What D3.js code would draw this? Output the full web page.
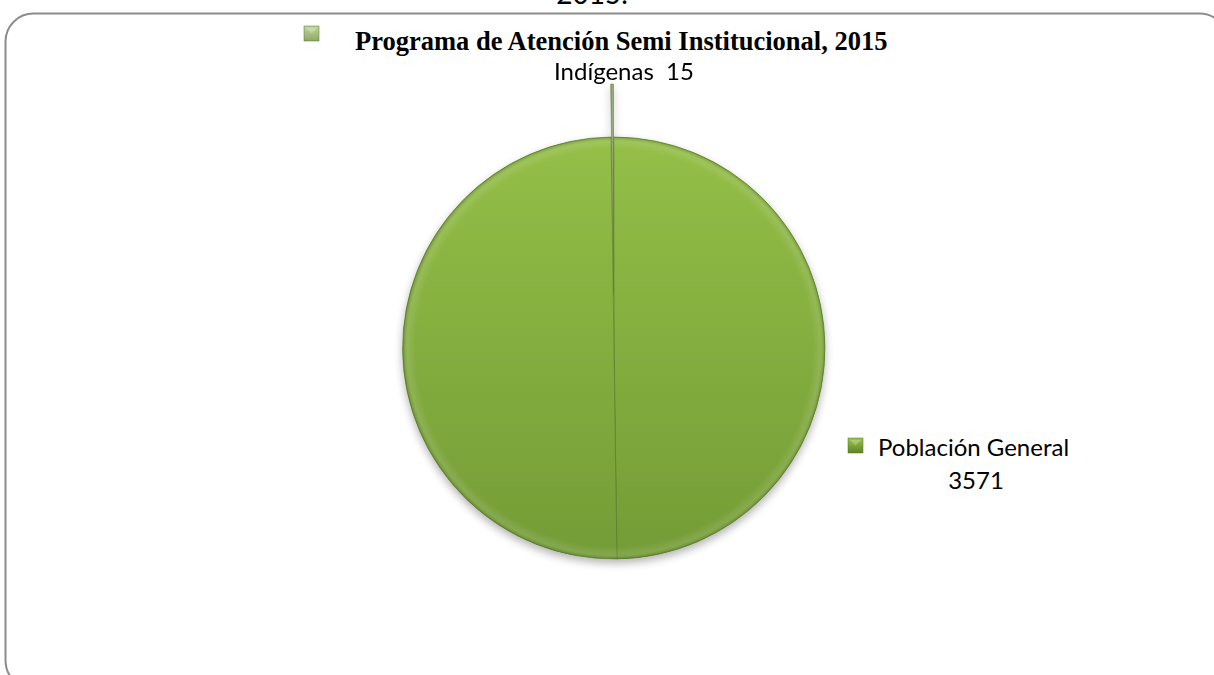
<!DOCTYPE html>
<html>
<head>
<meta charset="utf-8">
<script src="https://cdn.jsdelivr.net/npm/d3@7"></script>
<style>
  body { margin: 0; background: #fff; }
  svg { display: block; }
</style>
</head>
<body>
<svg id="pie"></svg>
<script>
var width = 1214, height = 675;

// data
var categories = ["Indígenas", "Población General", "Programa de Atención Semi Institucional, 2015"];
var values = [15, 3571, 3586];
var labelTexts = ["Indígenas  15", "Población General|3571", "Programa de Atención Semi Institucional, 2015"];

var data = categories.map(function (c, i) { return { name: c, value: values[i], label: labelTexts[i] }; });

var svg = d3.select("svg#pie")
  .attr("width", width)
  .attr("height", height);

var defs = svg.append("defs");

var cx = 614, cy = 348, radius = 211, explode = 53;

// pie fill gradient
var g1 = defs.append("linearGradient").attr("id", "pieFill")
  .attr("gradientUnits", "userSpaceOnUse")
  .attr("x1", 0).attr("y1", -radius).attr("x2", 0).attr("y2", radius);
g1.append("stop").attr("offset", "0%").attr("stop-color", "#94bf47");
g1.append("stop").attr("offset", "100%").attr("stop-color", "#749c37");

var g2 = defs.append("linearGradient").attr("id", "sliverFill")
  .attr("x1", 0).attr("y1", 0).attr("x2", 1).attr("y2", 0);
g2.append("stop").attr("offset", "0%").attr("stop-color", "#6f8450");
g2.append("stop").attr("offset", "50%").attr("stop-color", "#a8b98a");
g2.append("stop").attr("offset", "100%").attr("stop-color", "#6f8450");

// rim bevel
var rg = defs.append("radialGradient").attr("id", "rim")
  .attr("gradientUnits", "userSpaceOnUse")
  .attr("cx", 0).attr("cy", 0).attr("r", radius);
rg.append("stop").attr("offset", "94%").attr("stop-color", "#ffffff").attr("stop-opacity", 0);
rg.append("stop").attr("offset", "97.5%").attr("stop-color", "#ffffff").attr("stop-opacity", 0.1);
rg.append("stop").attr("offset", "100%").attr("stop-color", "#3d5a12").attr("stop-opacity", 0.35);

var shadow = defs.append("filter").attr("id", "shadow")
  .attr("x", "-10%").attr("y", "-10%").attr("width", "120%").attr("height", "125%");
shadow.append("feGaussianBlur").attr("in", "SourceAlpha").attr("stdDeviation", 4);
shadow.append("feOffset").attr("dx", 0).attr("dy", 4).attr("result", "ob");
shadow.append("feComponentTransfer").append("feFuncA").attr("type", "linear").attr("slope", 0.3);
var mrg = shadow.append("feMerge");
mrg.append("feMergeNode");
mrg.append("feMergeNode").attr("in", "SourceGraphic");

// key gradients
function keyGrad(id, top, bottom) {
  var kg = defs.append("linearGradient").attr("id", id)
    .attr("x1", 0).attr("y1", 0).attr("x2", 0).attr("y2", 1);
  kg.append("stop").attr("offset", "0%").attr("stop-color", top);
  kg.append("stop").attr("offset", "100%").attr("stop-color", bottom);
}
keyGrad("keyLight", "#c2d6a0", "#8ca864");
keyGrad("keyDark", "#9cc44f", "#5f8424");

// chart area border
svg.append("rect")
  .attr("x", 5.5).attr("y", 13.5)
  .attr("width", 1222).attr("height", 675)
  .attr("rx", 28).attr("ry", 28)
  .attr("fill", "none")
  .attr("stroke", "#8c8c8c")
  .attr("stroke-width", 2);

// cut-off text above the chart
svg.append("text")
  .attr("x", 592).attr("y", 4)
  .attr("text-anchor", "middle")
  .style("font-family", "Lato, 'Open Sans', sans-serif")
  .style("font-size", "28px")
  .attr("fill", "#000")
  .text("2015.");

// pie
var start = -0.8 * Math.PI / 180;

var pie = d3.pie()
  .sort(null)
  .value(function (d) { return d.value; })
  .startAngle(start)
  .endAngle(start + 2 * Math.PI);

var arc = d3.arc().innerRadius(0).outerRadius(radius);

var arcs = pie(data);

var gPie = svg.append("g")
  .attr("transform", "translate(" + cx + "," + cy + ")")
  .attr("filter", "url(#shadow)");

gPie.selectAll(".slice")
  .data(arcs)
  .enter().append("path")
  .attr("class", "slice")
  .attr("transform", function (d, i) {
    if (i !== 0) return null;
    var mid = (d.startAngle + d.endAngle) / 2;
    return "translate(" + (Math.sin(mid) * explode) + "," + (-Math.cos(mid) * explode) + ")";
  })
  .attr("d", arc)
  .attr("fill", function (d, i) { return i === 0 ? "url(#sliverFill)" : "url(#pieFill)"; })
  .attr("stroke", function (d, i) { return i === 0 ? "#5d6f43" : "#56782a"; })
  .attr("stroke-width", function (d, i) { return i === 0 ? 0.6 : 0.8; })
  .attr("stroke-opacity", 0.8);

// rim shading on the big slices
gPie.selectAll(".rim")
  .data(arcs.slice(1))
  .enter().append("path")
  .attr("class", "rim")
  .attr("d", arc)
  .attr("fill", "url(#rim)")
  .attr("pointer-events", "none");

// labels
var font = "Lato, 'Open Sans', sans-serif";

// Indígenas
svg.append("text")
  .attr("x", 624).attr("y", 80)
  .attr("text-anchor", "middle")
  .style("font-family", font)
  .style("font-size", "24px")
  .style("white-space", "pre")
  .attr("fill", "#000")
  .text(data[0].label);

// legend-style keys
function key(x, y, fillId) {
  var k = svg.append("g").attr("transform", "translate(" + x + "," + y + ")");
  k.append("rect").attr("width", 15).attr("height", 15).attr("fill", "url(#" + fillId + ")");
  k.append("polygon").attr("points", "2,2 13,2 7.5,7.5").attr("fill", "#ffffff").attr("opacity", 0.25);
  k.append("rect").attr("width", 15).attr("height", 15).attr("fill", "none")
    .attr("stroke", "#55702a").attr("stroke-width", 0.5);
}

// Población General
key(848, 438, "keyDark");
var pgParts = data[1].label.split("|");
svg.append("text")
  .attr("x", 878).attr("y", 456)
  .style("font-family", font)
  .style("font-size", "24px")
  .attr("fill", "#000")
  .text(pgParts[0]);
svg.append("text")
  .attr("x", 976).attr("y", 489)
  .attr("text-anchor", "middle")
  .style("font-family", font)
  .style("font-size", "24px")
  .attr("fill", "#000")
  .text(pgParts[1]);

// Programa (title-like data label)
key(304, 26, "keyLight");
svg.append("text")
  .attr("x", 355).attr("y", 50)
  .style("font-family", "'Liberation Serif', 'Times New Roman', serif")
  .style("font-weight", "bold")
  .style("font-size", "26.5px")
  .attr("fill", "#000")
  .text(data[2].label);
</script>
</body>
</html>
